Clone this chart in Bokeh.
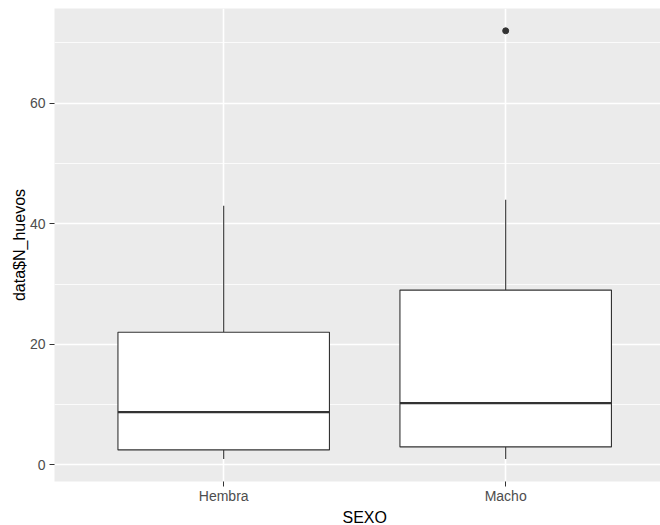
from bokeh.plotting import figure
from bokeh.models import FixedTicker, Range1d, Title, ColumnDataSource
from bokeh.embed import file_html
from bokeh.resources import INLINE

# Data
categories = ["Hembra", "Macho"]
cat_pos = [1, 2]
lower_whisker = [1, 1]
q1 = [2.5, 3]
median = [8.75, 10.25]
q3 = [22, 29]
upper_whisker = [43, 44]
outlier_cat = [2]
outlier_val = [72]
y_ticks = [0, 20, 40, 60]
y_minor = [10, 30, 50, 70]

FONT = "Liberation Sans"
BOX_W = 0.75

p = figure(width=660, height=525, output_backend="svg", toolbar_location=None,
           x_range=Range1d(0.4, 2.549), y_range=Range1d(-2.74, 75.7),
           min_border_left=54, min_border_right=0, min_border_top=8, min_border_bottom=44)

p.background_fill_color = "#EBEBEB"
p.border_fill_color = "white"
p.outline_line_color = None

# axes
p.xaxis.ticker = FixedTicker(ticks=cat_pos)
p.xaxis.major_label_overrides = {c: l for c, l in zip(cat_pos, categories)}
p.yaxis.ticker = FixedTicker(ticks=y_ticks, minor_ticks=y_minor)
for ax in (p.xaxis[0], p.yaxis[0]):
    ax.axis_line_color = None
    ax.major_tick_line_color = "#333333"
    ax.major_tick_in = 0
    ax.major_tick_out = 5
    ax.minor_tick_line_color = None
    ax.major_label_text_font = FONT
    ax.major_label_text_font_size = "14px"
    ax.major_label_text_color = "#4D4D4D"
    ax.major_label_standoff = 4
    ax.axis_label_text_font = FONT
    ax.axis_label_text_font_size = "16px"
    ax.axis_label_text_font_style = "normal"
    ax.axis_label_text_color = "black"

p.xaxis.major_label_standoff = 1
p.yaxis.axis_label = "data$N_huevos"
p.yaxis.axis_label_standoff = -1

# grids
p.xgrid.grid_line_color = "white"
p.xgrid.grid_line_width = 1.6
p.ygrid.grid_line_color = "white"
p.ygrid.grid_line_width = 1.6
p.ygrid.minor_grid_line_color = "white"
p.ygrid.minor_grid_line_width = 0.8

src = ColumnDataSource(dict(x=cat_pos, lw=lower_whisker, q1=q1, med=median, q3=q3, uw=upper_whisker,
                            left=[c - BOX_W / 2 for c in cat_pos], right=[c + BOX_W / 2 for c in cat_pos]))

# whiskers
p.segment(x0="x", y0="q3", x1="x", y1="uw", source=src, line_color="#333333", line_width=1.1)
p.segment(x0="x", y0="lw", x1="x", y1="q1", source=src, line_color="#333333", line_width=1.1)
# boxes
p.quad(left="left", right="right", bottom="q1", top="q3", source=src,
       fill_color="white", line_color="#333333", line_width=1.1)
# medians
p.segment(x0="left", y0="med", x1="right", y1="med", source=src, line_color="#333333", line_width=2.2)
# outliers
p.scatter(x=outlier_cat, y=outlier_val, size=6, color="#333333")

# x axis title, positioned at the centre of the full (cropped) panel
p.add_layout(Title(text="SEXO", align="left", offset=288, standoff=0,
                   text_font=FONT, text_font_size="16px", text_font_style="normal",
                   text_color="black"), "below")

open("out.html", "w").write(file_html(p, INLINE))
